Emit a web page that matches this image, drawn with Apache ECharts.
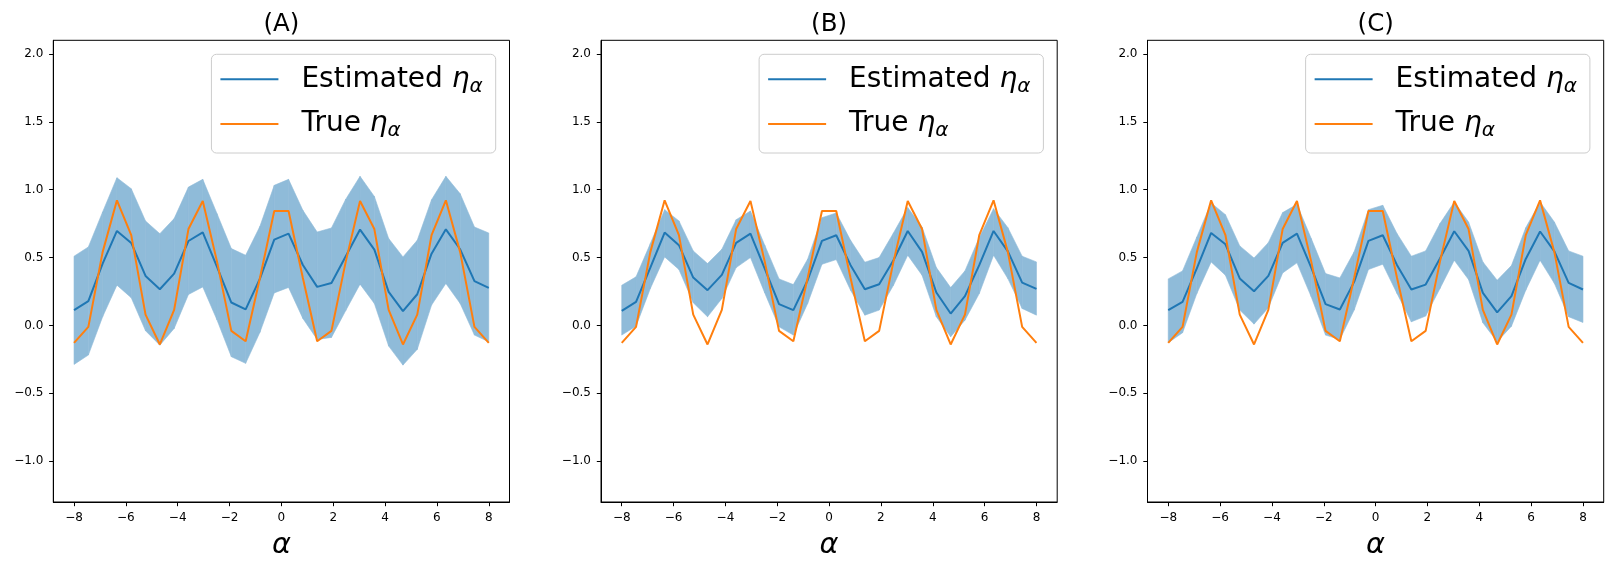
<!DOCTYPE html>
<html>
<head>
<meta charset="utf-8">
<script src="https://cdn.jsdelivr.net/npm/echarts@6/dist/echarts.min.js"></script>
<style>
html,body{margin:0;padding:0;background:#fff;}
#chart{width:1613px;height:569px;}
</style>
</head>
<body>
<div id="chart"></div>
<script>
const alpha = [-8, -7.448, -6.897, -6.345, -5.793, -5.241, -4.690, -4.138, -3.586, -3.034, -2.483, -1.931, -1.379, -0.828, -0.276, 0.276, 0.828, 1.379, 1.931, 2.483, 3.034, 3.586, 4.138, 4.690, 5.241, 5.793, 6.345, 6.897, 7.448, 8];
const trueEta = [-0.128, -0.01, 0.54, 0.922, 0.665, 0.08, -0.14, 0.115, 0.71, 0.916, 0.47, -0.04, -0.116, 0.35, 0.843, 0.843, 0.35, -0.116, -0.04, 0.47, 0.916, 0.71, 0.115, -0.14, 0.08, 0.665, 0.922, 0.54, -0.01, -0.128];

const estA = [0.113, 0.179, 0.456, 0.696, 0.608, 0.365, 0.267, 0.382, 0.622, 0.686, 0.431, 0.169, 0.118, 0.345, 0.632, 0.676, 0.445, 0.284, 0.313, 0.51, 0.706, 0.559, 0.247, 0.105, 0.23, 0.529, 0.708, 0.561, 0.326, 0.277];
const upA = [0.51, 0.578, 0.836, 1.088, 1.007, 0.769, 0.676, 0.787, 1.019, 1.076, 0.823, 0.566, 0.517, 0.73, 1.032, 1.076, 0.848, 0.688, 0.718, 0.93, 1.098, 0.95, 0.64, 0.505, 0.627, 0.926, 1.098, 0.97, 0.725, 0.681];
const loA = [-0.287, -0.218, 0.064, 0.297, 0.204, -0.039, -0.145, -0.022, 0.228, 0.284, 0.04, -0.23, -0.279, -0.05, 0.24, 0.28, 0.052, -0.103, -0.088, 0.11, 0.304, 0.162, -0.152, -0.292, -0.176, 0.15, 0.309, 0.162, -0.071, -0.12];

const estB = [0.108, 0.174, 0.426, 0.684, 0.591, 0.353, 0.26, 0.373, 0.608, 0.676, 0.419, 0.157, 0.113, 0.333, 0.623, 0.664, 0.444, 0.267, 0.304, 0.48, 0.696, 0.542, 0.243, 0.088, 0.216, 0.444, 0.696, 0.546, 0.316, 0.27];
const upB = [0.296, 0.358, 0.603, 0.853, 0.77, 0.549, 0.456, 0.561, 0.779, 0.843, 0.591, 0.343, 0.301, 0.488, 0.794, 0.828, 0.627, 0.466, 0.5, 0.681, 0.868, 0.725, 0.426, 0.279, 0.402, 0.647, 0.86, 0.72, 0.51, 0.468];
const loB = [-0.071, -0.005, 0.272, 0.505, 0.412, 0.167, 0.064, 0.198, 0.426, 0.5, 0.24, -0.01, -0.071, 0.162, 0.451, 0.485, 0.26, 0.076, 0.113, 0.296, 0.517, 0.37, 0.064, -0.083, 0.039, 0.235, 0.517, 0.345, 0.125, 0.076];

const estC = [0.113, 0.174, 0.42, 0.681, 0.598, 0.346, 0.252, 0.365, 0.608, 0.676, 0.426, 0.157, 0.118, 0.321, 0.623, 0.664, 0.444, 0.265, 0.301, 0.493, 0.694, 0.549, 0.24, 0.096, 0.216, 0.49, 0.692, 0.546, 0.314, 0.265];
const upC = [0.343, 0.402, 0.652, 0.902, 0.816, 0.586, 0.497, 0.61, 0.831, 0.892, 0.64, 0.382, 0.35, 0.542, 0.853, 0.885, 0.676, 0.51, 0.549, 0.75, 0.909, 0.762, 0.468, 0.333, 0.441, 0.72, 0.909, 0.762, 0.549, 0.51];
const loC = [-0.127, -0.054, 0.235, 0.468, 0.37, 0.113, 0.01, 0.13, 0.387, 0.461, 0.211, -0.071, -0.103, 0.113, 0.412, 0.451, 0.235, 0.027, 0.069, 0.272, 0.48, 0.338, 0.02, -0.12, -0.005, 0.26, 0.48, 0.31, 0.064, 0.022];

const xTicks = [-8, -6, -4, -2, 0, 2, 4, 6, 8];
const yTicks = [-1.0, -0.5, 0.0, 0.5, 1.0, 1.5, 2.0];
const panelTitles = ['(A)', '(B)', '(C)'];
const legendNames = ['Estimated', 'True'];

const panels = [
  {est: estA, up: upA, lo: loA},
  {est: estB, up: upB, lo: loB},
  {est: estC, up: upC, lo: loC}
];

const W = 1613;
const gridLefts = [53.3, 601, 1147.5];
const gridTop = 40.3, gridW = 456.2, gridH = 461.7;
const FONT = 'DejaVu Sans';
const BLUE = '#1f77b4', ORANGE = '#ff7f0e', BAND = '#8fbbd9';
const minus = s => s.replace('-', '\u2212');

const grids = [], xAxes = [], yAxes = [], series = [], titles = [], legends = [];
const zip = (xs, ys) => xs.map((x, i) => [x, ys[i]]);

function bandItem(params, api) {
  const p0 = api.coord([api.value(0), api.value(1)]);
  const p1 = api.coord([api.value(3), api.value(4)]);
  const q1 = api.coord([api.value(3), api.value(5)]);
  const q0 = api.coord([api.value(0), api.value(2)]);
  return {type: 'polygon', shape: {points: [p0, p1, q1, q0]},
    style: {fill: BAND, stroke: BAND, lineWidth: 0.6}};
}

panels.forEach((p, k) => {
  const L = gridLefts[k];
  grids.push({left: L, top: gridTop, width: gridW, height: gridH, show: true,
    borderColor: '#000', borderWidth: 1, backgroundColor: 'transparent', containLabel: false});
  xAxes.push({type: 'value', gridIndex: k, min: -8.8, max: 8.8,
    axisLine: {show: true, onZero: false, lineStyle: {color: '#000', width: 1}},
    axisTick: {show: true, length: 4.2, customValues: xTicks, lineStyle: {color: '#000', width: 1}},
    axisLabel: {customValues: xTicks, margin: 10, color: '#000', fontSize: 12, fontFamily: FONT,
      formatter: v => minus(String(Math.round(v)))},
    splitLine: {show: false},
    name: 'α', nameLocation: 'middle', nameGap: 29,
    nameTextStyle: {fontFamily: FONT, fontStyle: 'italic', fontSize: 28.8, color: '#000'}
  });
  yAxes.push({type: 'value', gridIndex: k, min: -1.3, max: 2.1,
    axisLine: {show: true, onZero: false, lineStyle: {color: '#000', width: 1}},
    axisTick: {show: true, length: 4.2, customValues: yTicks, lineStyle: {color: '#000', width: 1}},
    axisLabel: {customValues: yTicks, margin: 10, color: '#000', fontSize: 12, fontFamily: FONT,
      formatter: v => minus(v.toFixed(1))},
    splitLine: {show: false}
  });
  const segs = alpha.slice(0, -1).map((x, i) => [x, p.lo[i], p.up[i], alpha[i + 1], p.lo[i + 1], p.up[i + 1]]);
  series.push({type: 'custom', xAxisIndex: k, yAxisIndex: k, name: 'band' + k,
    data: segs, renderItem: bandItem, encode: {x: [0, 3], y: [1, 2, 4, 5]}, silent: true, z: 1, clip: true});
  series.push({type: 'line', xAxisIndex: k, yAxisIndex: k, name: legendNames[0],
    data: zip(alpha, p.est), symbol: 'none', showSymbol: false, color: BLUE,
    lineStyle: {color: BLUE, width: 2}, z: 3});
  series.push({type: 'line', xAxisIndex: k, yAxisIndex: k, name: legendNames[1],
    data: zip(alpha, trueEta), symbol: 'none', showSymbol: false, color: ORANGE,
    lineStyle: {color: ORANGE, width: 2}, z: 4});

  const cx = L + gridW / 2;
  titles.push({text: panelTitles[k], left: cx - 18, top: 12.6, padding: 0,
    textStyle: {fontFamily: FONT, fontWeight: 'normal', fontSize: 24.5, color: '#000'}});
  const legRight = L + gridW - 13.8;
  legends.push({
    data: [{name: legendNames[0], icon: 'rect', itemStyle: {color: BLUE}},
           {name: legendNames[1], icon: 'rect', itemStyle: {color: ORANGE}}],
    orient: 'vertical', right: W - legRight, top: 54.3,
    padding: [8, 13, 12, 9], itemGap: 10.7, itemWidth: 58, itemHeight: 2, align: 'left',
    backgroundColor: 'rgba(255,255,255,0.8)', borderColor: '#cccccc', borderWidth: 1, borderRadius: 5,
    selectedMode: false,
    formatter: name => '{t|' + name + ' }{e|η}{s|α}',
    textStyle: {fontFamily: FONT, fontSize: 28, color: '#000',
      rich: {
        t: {fontFamily: FONT, fontSize: 28, lineHeight: 34, color: '#000', padding: [0, 0, 0, 18]},
        e: {fontFamily: FONT, fontStyle: 'italic', fontSize: 28, lineHeight: 34, color: '#000'},
        s: {fontFamily: FONT, fontStyle: 'italic', fontSize: 20, lineHeight: 34, color: '#000', padding: [14, 0, 0, 0]}
      }}
  });
});

const chart = echarts.init(document.getElementById('chart'), null, {renderer: 'canvas'});
chart.setOption({
  animation: false,
  backgroundColor: '#fff',
  title: titles,
  legend: legends,
  grid: grids,
  xAxis: xAxes,
  yAxis: yAxes,
  series: series
});
</script>
</body>
</html>
